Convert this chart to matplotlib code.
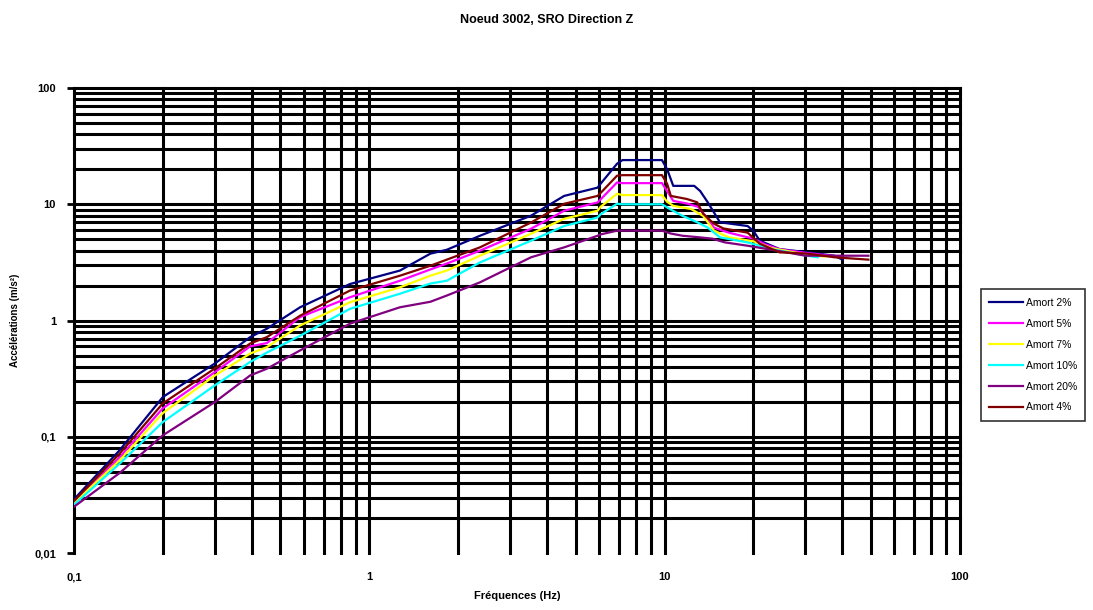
import numpy as np
import matplotlib
matplotlib.use('Agg')
import matplotlib.pyplot as plt
from matplotlib.ticker import FixedLocator, NullFormatter

# (frequency in Hz, acceleration in m/s2)
f_2 = [0.1, 0.143, 0.2, 0.3, 0.395, 0.45, 0.583, 0.86, 1.27, 1.61, 1.83, 2.37, 3.53, 4.57,
       5.93, 6.07, 6.9, 7.2, 9.8, 10.2, 10.7, 12.6, 13.2, 14.0, 14.7, 15.4, 19.1, 20.0, 21.0,
       24.5, 30.5, 37.6, 40.0]
a_2 = [0.029, 0.077, 0.22, 0.427, 0.72, 0.85, 1.30, 2.06, 2.69, 3.76, 4.06, 5.36, 7.98, 11.8,
       13.9, 15.0, 22.3, 24.0, 24.0, 20.0, 14.4, 14.4, 13.0, 10.4, 8.5, 7.0, 6.5, 5.9, 4.86,
       4.12, 3.86, 3.61, 3.34]

f_4 = [0.1, 0.143, 0.2, 0.3, 0.395, 0.45, 0.583, 0.86, 1.27, 1.61, 1.83, 2.37, 3.53, 4.57,
       5.93, 6.07, 6.9, 7.2, 9.8, 10.2, 10.5, 11.9, 12.9, 13.5, 14.7, 15.8, 19.1, 21.0, 24.5,
       30.5, 37.6, 49.0]
a_4 = [0.028, 0.072, 0.194, 0.387, 0.634, 0.72, 1.10, 1.81, 2.43, 2.96, 3.34, 4.26, 6.97, 10.1,
       11.8, 12.5, 17.6, 17.8, 17.8, 15.0, 11.8, 11.1, 10.4, 8.3, 6.8, 6.2, 5.7, 4.58, 3.86,
       3.76, 3.5, 3.34]

f_5 = [0.1, 0.143, 0.2, 0.3, 0.395, 0.45, 0.583, 0.86, 1.27, 1.61, 1.83, 2.37, 3.53, 4.57,
       5.93, 6.07, 6.9, 7.2, 9.8, 10.4, 10.7, 12.0, 13.0, 14.0, 14.7, 16.5, 20.0, 22.0, 24.5,
       30.5, 37.0, 40.0]
a_5 = [0.027, 0.067, 0.176, 0.36, 0.60, 0.64, 1.07, 1.585, 2.20, 2.75, 3.09, 3.99, 6.16, 8.8,
       10.37, 11.0, 15.4, 15.2, 15.2, 12.0, 10.7, 10.1, 9.5, 7.5, 6.3, 5.7, 5.06, 4.5, 4.1,
       3.8, 3.6, 3.5]

f_7 = [0.1, 0.143, 0.2, 0.3, 0.395, 0.45, 0.583, 0.86, 1.27, 1.61, 1.83, 2.37, 3.53, 4.57,
       5.93, 6.07, 6.9, 7.2, 9.8, 10.2, 10.7, 12.3, 13.5, 14.7, 16.5, 20.0, 23.0, 30.0, 35.0]
a_7 = [0.027, 0.063, 0.16, 0.337, 0.52, 0.59, 0.906, 1.436, 1.93, 2.43, 2.69, 3.61, 5.58, 7.5,
       8.8, 9.5, 12.3, 12.0, 12.0, 10.5, 9.7, 9.1, 7.95, 5.93, 5.19, 4.8, 4.2, 3.7, 3.55]

f_10 = [0.1, 0.143, 0.2, 0.3, 0.395, 0.45, 0.583, 0.86, 1.27, 1.61, 1.83, 2.37, 3.53, 4.57,
        5.93, 6.07, 6.9, 7.2, 9.8, 10.5, 11.5, 12.9, 14.0, 15.4, 19.1, 23.0, 30.5, 33.0]
a_10 = [0.026, 0.059, 0.134, 0.277, 0.44, 0.53, 0.74, 1.26, 1.70, 2.08, 2.20, 3.16, 4.86, 6.5,
        7.7, 8.2, 10.1, 10.0, 10.0, 9.0, 7.95, 7.0, 6.3, 5.19, 4.7, 4.12, 3.6, 3.5]

f_20 = [0.1, 0.143, 0.2, 0.3, 0.395, 0.45, 0.583, 0.86, 1.27, 1.61, 1.83, 2.37, 3.53, 4.57,
        5.93, 6.07, 6.9, 7.2, 9.8, 10.5, 11.5, 13.2, 14.5, 16.0, 19.1, 24.0, 30.0, 49.0]
a_20 = [0.025, 0.049, 0.103, 0.199, 0.337, 0.385, 0.553, 0.94, 1.30, 1.45, 1.64, 2.13, 3.5, 4.26,
        5.36, 5.5, 5.93, 5.93, 5.93, 5.6, 5.36, 5.19, 5.06, 4.7, 4.4, 3.99, 3.61, 3.61]

series = [
    ('Amort 2%', f_2, a_2, '#000080'),
    ('Amort 5%', f_5, a_5, '#ff00ff'),
    ('Amort 7%', f_7, a_7, '#ffff00'),
    ('Amort 10%', f_10, a_10, '#00ffff'),
    ('Amort 20%', f_20, a_20, '#800080'),
    ('Amort 4%', f_4, a_4, '#800000'),
]

plt.rcParams['font.family'] = ['Liberation Sans', 'DejaVu Sans']

fig = plt.figure(figsize=(10.93, 6.10), dpi=100)
ax = fig.add_axes([0.0677, 0.0934, 0.8105, 0.7623])

# grid lines drawn at every decade step, like the original sheet
xgrid = [m * 10.0 ** e for e in (-1, 0, 1) for m in range(1, 10)] + [100]
ygrid = [m * 10.0 ** e for e in (-2, -1, 0, 1) for m in range(1, 10)] + [100]
for gx in xgrid[1:]:
    ax.axvline(gx, color='black', lw=2.2, zorder=1, clip_on=False)
for gy in ygrid[1:]:
    ax.axhline(gy, color='black', lw=2.2, zorder=1, clip_on=False)

for name, f, a, c in series:
    ax.plot(f, a, color=c, lw=1.6, label=name, zorder=3)

ax.set_xscale('log')
ax.set_yscale('log')
ax.set_xlim(0.1, 100)
ax.set_ylim(0.01, 100)

for s in ('top', 'right', 'bottom'):
    ax.spines[s].set_visible(False)
ax.spines['left'].set_linewidth(2.2)

ax.xaxis.set_major_locator(FixedLocator([0.1, 1, 10, 100]))
ax.set_xticklabels(['0,1', '1', '10', '100'], fontsize=8, fontweight='bold')
ax.xaxis.set_minor_formatter(NullFormatter())
ax.tick_params(axis='x', which='both', length=0, pad=14)
ax.yaxis.set_major_locator(FixedLocator([0.01, 0.1, 1, 10, 100]))
ax.set_yticklabels(['0,01', '0,1', '1', '10', '100'], fontsize=8, fontweight='bold')
ax.yaxis.set_minor_formatter(NullFormatter())
ax.tick_params(axis='y', which='major', length=5, width=2, pad=8)
ax.tick_params(axis='y', which='minor', length=0)

ax.set_xlabel('Fréquences (Hz)', fontsize=8, fontweight='bold', labelpad=6)
ax.set_ylabel('Accélérations (m/s²)', fontsize=7, fontweight='bold', labelpad=10)
fig.suptitle('Noeud 3002, SRO Direction Z', fontsize=9, fontweight='bold', y=0.977)

leg = ax.legend(loc='upper left', bbox_to_anchor=(1.018, 0.578), fontsize=7.5,
                frameon=True, fancybox=False, edgecolor='black', borderpad=0.8,
                handlelength=3.2, handletextpad=0.3, labelspacing=1.05)
leg.get_frame().set_linewidth(1.2)

fig.savefig('out.png', dpi=100)
